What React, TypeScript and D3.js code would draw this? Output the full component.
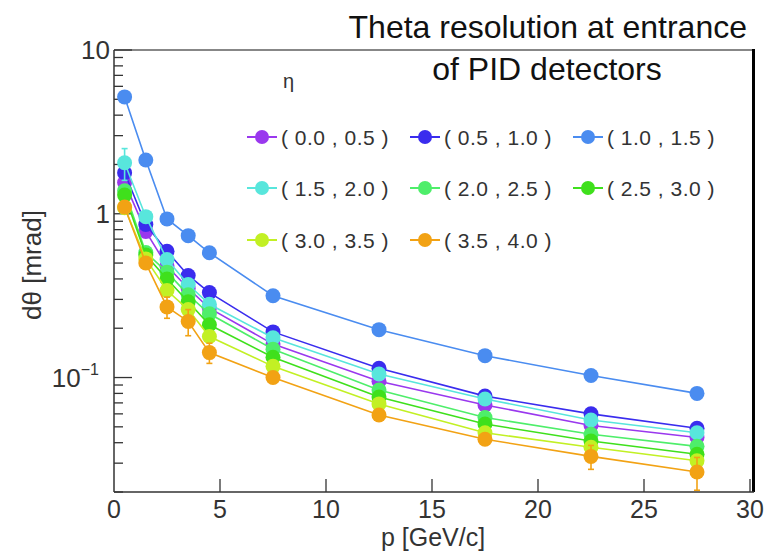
import React from "react";
import * as d3 from "d3";

const momentum = [0.5, 1.5, 2.5, 3.5, 4.5, 7.5, 12.5, 17.5, 22.5, 27.5];

const etaBins = [
  "( 0.0 , 0.5 )",
  "( 0.5 , 1.0 )",
  "( 1.0 , 1.5 )",
  "( 1.5 , 2.0 )",
  "( 2.0 , 2.5 )",
  "( 2.5 , 3.0 )",
  "( 3.0 , 3.5 )",
  "( 3.5 , 4.0 )",
];

const eta00_05 = [1.55, 0.78, 0.48, 0.35, 0.265, 0.16, 0.095, 0.068, 0.051, 0.043];
const eta05_10 = [1.78, 0.86, 0.59, 0.42, 0.33, 0.19, 0.114, 0.077, 0.06, 0.049];
const eta10_15 = [5.17, 2.13, 0.93, 0.735, 0.578, 0.316, 0.196, 0.136, 0.103, 0.08];
const eta15_20 = [2.05, 0.96, 0.525, 0.37, 0.28, 0.175, 0.105, 0.074, 0.055, 0.046];
const eta20_25 = [1.38, 0.58, 0.44, 0.32, 0.245, 0.149, 0.084, 0.057, 0.045, 0.038];
const eta25_30 = [1.3, 0.56, 0.4, 0.29, 0.21, 0.133, 0.076, 0.052, 0.041, 0.034];
const eta30_35 = [1.09, 0.53, 0.34, 0.26, 0.178, 0.117, 0.069, 0.046, 0.0375, 0.031];
const eta35_40 = [1.1, 0.5, 0.27, 0.22, 0.142, 0.1, 0.059, 0.042, 0.033, 0.0265];

const err15_20 = [0.45, 0, 0, 0, 0, 0, 0, 0, 0, 0];
const err35_40 = [0, 0, 0.04, 0.04, 0.02, 0, 0, 0, 0.0055, 0.006];
const errNone = [0, 0, 0, 0, 0, 0, 0, 0, 0, 0];

const seriesValues = [eta00_05, eta05_10, eta10_15, eta15_20, eta20_25, eta25_30, eta30_35, eta35_40];
const seriesErrors = [errNone, errNone, errNone, err15_20, errNone, errNone, errNone, err35_40];
const seriesColors = ["#9a38ee", "#3a2cee", "#4a8cf0", "#58e6dc", "#4eee6a", "#3fe01c", "#c2f024", "#f2a214"];

const xTicks = [0, 5, 10, 15, 20, 25, 30];
const yMajorTicks = [0.1, 1, 10];
const yMajorBase = ["10", "1", "10"];
const yMajorExp = ["\u22121", "", ""];

const FONT = '"Liberation Sans", Arial, Helvetica, sans-serif';

export default function App() {
  const W = 765;
  const H = 551;
  const left = 114;
  const right = 750;
  const top = 50;
  const bottom = 492;
  const x = d3.scaleLinear().domain([0, 30]).range([left, right]);
  const y = d3.scaleLog().domain([0.02, 10]).range([bottom, top]);
  const line = d3
    .line<number>()
    .x((_, i) => x(momentum[i]))
    .y((d) => y(d));

  const yAll = y.ticks();
  const isMajor = (v: number) => Math.abs(Math.log10(v) - Math.round(Math.log10(v))) < 1e-9;

  const legendCols = [262, 425, 588];
  const legendRows = [137, 188, 240];

  return (
    <svg
      width={W}
      height={H}
      style={{ position: "absolute", left: 0, top: 0, background: "#fff" }}
      fontFamily={FONT}
    >
      <rect x={0} y={0} width={W} height={H} fill="#fff" />
      {/* frame */}
      <line x1={left} x2={754} y1={top} y2={top} stroke="#111" strokeWidth={1.2} />
      <line x1={753.5} x2={753.5} y1={top - 1} y2={bottom} stroke="#000" strokeWidth={3} />
      <line x1={left} x2={left} y1={top} y2={bottom} stroke="#333" strokeWidth={1.5} />
      <line x1={left} x2={754} y1={bottom} y2={bottom} stroke="#333" strokeWidth={1.5} />

      {/* y ticks */}
      {yAll.map((v, i) => (
        <line
          key={"yt" + i}
          x1={left}
          x2={left + (isMajor(v) ? 18 : 9)}
          y1={y(v)}
          y2={y(v)}
          stroke="#333"
          strokeWidth={1.3}
        />
      ))}
      {yMajorTicks.map((v, i) => (
        <text
          key={"yl" + i}
          x={yMajorExp[i] ? 99 : 110}
          y={y(v) + 9}
          textAnchor="end"
          fontSize={26}
          fill="#333"
        >
          {yMajorBase[i]}
          {yMajorExp[i] && (
            <tspan fontSize={16} dy={-12}>
              {yMajorExp[i]}
            </tspan>
          )}
        </text>
      ))}

      {/* x ticks */}
      {xTicks.map((v, i) => (
        <g key={"xt" + i}>
          {v > 0 && (
            <line x1={x(v)} x2={x(v)} y1={bottom} y2={bottom - 13} stroke="#333" strokeWidth={1.3} />
          )}
          <text x={x(v)} y={518} textAnchor="middle" fontSize={25} fill="#333">
            {v}
          </text>
        </g>
      ))}

      {/* axis titles */}
      <text x={433} y={546} textAnchor="middle" fontSize={25} fill="#333">
        p [GeV/c]
      </text>
      <text
        transform={`translate(41,265) rotate(-90)`}
        textAnchor="middle"
        fontSize={26}
        fill="#333"
      >
        dθ [mrad]
      </text>

      {/* title */}
      <text x={747} y={38} textAnchor="end" fontSize={32} fill="#111">
        Theta resolution at entrance
      </text>
      <text x={547} y={80} textAnchor="middle" fontSize={32} fill="#111">
        of PID detectors
      </text>

      {/* data */}
      {seriesValues.map((vals, s) => (
        <g key={"s" + s}>
          <path d={line(vals) || ""} fill="none" stroke={seriesColors[s]} strokeWidth={1.6} />
          {vals.map((v, i) =>
            seriesErrors[s][i] > 0 ? (
              <g key={"e" + i} stroke={seriesColors[s]} strokeWidth={1.6}>
                <line x1={x(momentum[i])} x2={x(momentum[i])} y1={y(v - seriesErrors[s][i])} y2={y(v + seriesErrors[s][i])} />
                <line x1={x(momentum[i]) - 3} x2={x(momentum[i]) + 3} y1={y(v + seriesErrors[s][i])} y2={y(v + seriesErrors[s][i])} />
                <line x1={x(momentum[i]) - 3} x2={x(momentum[i]) + 3} y1={y(v - seriesErrors[s][i])} y2={y(v - seriesErrors[s][i])} />
              </g>
            ) : null
          )}
          {vals.map((v, i) => (
            <circle key={"c" + i} cx={x(momentum[i])} cy={y(v)} r={7.5} fill={seriesColors[s]} />
          ))}
        </g>
      ))}

      {/* legend */}
      <text x={283} y={88} fontSize={20} fill="#333">
        η
      </text>
      {etaBins.map((lab, i) => {
        const cx = legendCols[i % 3];
        const cy = legendRows[Math.floor(i / 3)];
        return (
          <g key={"lg" + i}>
            <line x1={cx - 15} x2={cx + 15} y1={cy} y2={cy} stroke={seriesColors[i]} strokeWidth={2} />
            <circle cx={cx} cy={cy} r={7} fill={seriesColors[i]} />
            <text x={cx + 19} y={cy + 7.5} fontSize={21} letterSpacing={0.5} fill="#333">
              {lab}
            </text>
          </g>
        );
      })}
    </svg>
  );
}
